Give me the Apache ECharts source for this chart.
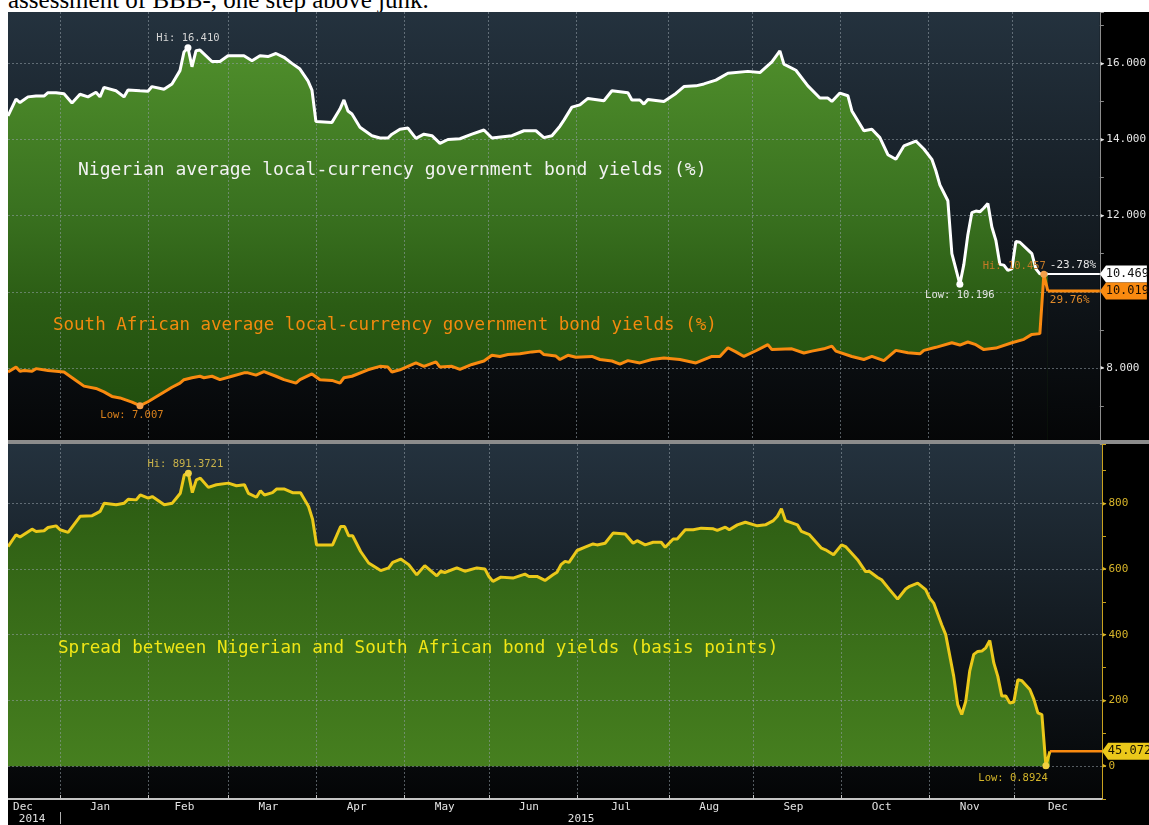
<!DOCTYPE html>
<html>
<head>
<meta charset="utf-8">
<script src="https://cdn.jsdelivr.net/npm/echarts@6/dist/echarts.min.js"></script>
<style>
  html, body { margin: 0; padding: 0; background: #fff; width: 1149px; height: 825px; overflow: hidden; }
  #caption { position: absolute; left: 8px; top: 0; width: 1141px; height: 12px; overflow: hidden; }
  #caption span { position: absolute; left: 0; top: -13px; font: 25px/25px "Liberation Serif", serif; color: #000; white-space: nowrap; }
  #main { position: absolute; left: 8px; top: 12px; width: 1141px; height: 813px; background: #000; }
</style>
</head>
<body>
<div id="caption"><span>assessment of BBB-, one step above junk.</span></div>
<div id="main"></div>
<script>
// Nigerian average local-currency government bond yield (%)
const ngPoints = [
  ['2014-12-15', 14.62], ['2014-12-17', 15.06], ['2014-12-18', 14.97], ['2014-12-22', 15.12],
  ['2014-12-24', 15.14], ['2014-12-26', 15.14], ['2014-12-29', 15.23], ['2014-12-31', 15.23],
  ['2015-01-02', 15.20], ['2015-01-06', 14.96], ['2015-01-08', 15.19], ['2015-01-12', 15.12],
  ['2015-01-14', 15.24], ['2015-01-15', 15.12], ['2015-01-16', 15.37], ['2015-01-21', 15.28],
  ['2015-01-23', 15.12], ['2015-01-26', 15.30], ['2015-01-29', 15.28], ['2015-02-02', 15.27],
  ['2015-02-03', 15.39], ['2015-02-06', 15.32], ['2015-02-10', 15.46], ['2015-02-12', 15.81],
  ['2015-02-13', 16.30], ['2015-02-16', 16.41], ['2015-02-17', 15.91], ['2015-02-18', 16.33],
  ['2015-02-19', 16.35], ['2015-02-24', 16.05], ['2015-02-26', 16.05], ['2015-03-02', 16.20],
  ['2015-03-06', 16.20], ['2015-03-10', 16.07], ['2015-03-12', 16.20], ['2015-03-16', 16.18],
  ['2015-03-18', 16.26], ['2015-03-20', 16.16], ['2015-03-24', 16.00], ['2015-03-26', 15.85],
  ['2015-03-30', 15.54], ['2015-03-31', 15.30], ['2015-04-01', 14.47], ['2015-04-07', 14.45],
  ['2015-04-09', 14.80], ['2015-04-10', 15.04], ['2015-04-13', 14.75], ['2015-04-14', 14.67],
  ['2015-04-16', 14.32], ['2015-04-21', 14.10], ['2015-04-23', 14.04], ['2015-04-27', 14.04],
  ['2015-04-28', 14.14], ['2015-04-30', 14.27], ['2015-05-04', 14.30], ['2015-05-06', 14.03],
  ['2015-05-08', 14.14], ['2015-05-12', 14.10], ['2015-05-14', 13.90], ['2015-05-18', 14.00],
  ['2015-05-21', 14.02], ['2015-05-26', 14.14], ['2015-05-29', 14.25], ['2015-06-02', 14.04],
  ['2015-06-09', 14.10], ['2015-06-12', 14.23], ['2015-06-17', 14.23], ['2015-06-19', 14.05],
  ['2015-06-23', 14.10], ['2015-06-25', 14.35], ['2015-06-26', 14.51], ['2015-06-30', 14.85],
  ['2015-07-02', 14.91], ['2015-07-06', 15.08], ['2015-07-10', 15.02], ['2015-07-14', 15.28],
  ['2015-07-20', 15.23], ['2015-07-21', 15.04], ['2015-07-23', 15.04], ['2015-07-24', 14.93],
  ['2015-07-27', 15.05], ['2015-07-31', 15.00], ['2015-08-05', 15.21], ['2015-08-07', 15.39],
  ['2015-08-12', 15.41], ['2015-08-14', 15.46], ['2015-08-19', 15.56], ['2015-08-24', 15.74],
  ['2015-08-31', 15.79], ['2015-09-03', 15.76], ['2015-09-08', 16.04], ['2015-09-10', 16.33],
  ['2015-09-11', 15.98], ['2015-09-16', 15.82], ['2015-09-21', 15.41], ['2015-09-24', 15.09],
  ['2015-09-28', 15.09], ['2015-09-29', 15.00], ['2015-10-01', 15.22], ['2015-10-05', 15.15],
  ['2015-10-06', 14.75], ['2015-10-09', 14.23], ['2015-10-13', 14.27], ['2015-10-15', 14.05],
  ['2015-10-19', 13.60], ['2015-10-21', 13.48], ['2015-10-23', 13.83], ['2015-10-28', 13.96],
  ['2015-10-30', 13.75], ['2015-11-03', 13.48], ['2015-11-04', 13.18], ['2015-11-05', 12.81],
  ['2015-11-09', 12.39], ['2015-11-10', 11.00], ['2015-11-11', 10.60], ['2015-11-12', 10.196],
  ['2015-11-13', 10.72], ['2015-11-16', 11.50], ['2015-11-17', 12.08], ['2015-11-18', 12.12],
  ['2015-11-19', 12.10], ['2015-11-20', 12.20], ['2015-11-23', 12.32], ['2015-11-24', 11.70],
  ['2015-11-25', 11.35], ['2015-11-26', 10.72], ['2015-11-27', 10.70], ['2015-11-30', 10.56],
  ['2015-12-01', 10.60], ['2015-12-02', 11.32], ['2015-12-03', 11.30], ['2015-12-07', 11.10],
  ['2015-12-08', 11.00], ['2015-12-09', 10.60], ['2015-12-10', 10.47], ['2015-12-11', 10.466],
  ['2015-12-14', 10.469]
];

// South African average local-currency government bond yield (%)
const saPoints = [
  ['2014-12-15', 7.89], ['2014-12-17', 8.02], ['2014-12-18', 7.91], ['2014-12-19', 7.93],
  ['2014-12-23', 7.91], ['2014-12-24', 7.98], ['2014-12-29', 7.93], ['2014-12-31', 7.91],
  ['2015-01-02', 7.89], ['2015-01-07', 7.67], ['2015-01-09', 7.52], ['2015-01-14', 7.46],
  ['2015-01-16', 7.37], ['2015-01-20', 7.25], ['2015-01-22', 7.21], ['2015-01-27', 7.10],
  ['2015-01-29', 7.007], ['2015-02-02', 7.11], ['2015-02-05', 7.30], ['2015-02-10', 7.49],
  ['2015-02-12', 7.60], ['2015-02-13', 7.69], ['2015-02-17', 7.74], ['2015-02-19', 7.78],
  ['2015-02-20', 7.74], ['2015-02-24', 7.78], ['2015-02-26', 7.69], ['2015-03-03', 7.78],
  ['2015-03-06', 7.87], ['2015-03-09', 7.87], ['2015-03-11', 7.81], ['2015-03-13', 7.90],
  ['2015-03-18', 7.78], ['2015-03-20', 7.69], ['2015-03-25', 7.60], ['2015-03-26', 7.69],
  ['2015-03-31', 7.84], ['2015-04-02', 7.69], ['2015-04-07', 7.67], ['2015-04-09', 7.60],
  ['2015-04-10', 7.74], ['2015-04-14', 7.78], ['2015-04-20', 7.95], ['2015-04-23', 8.04],
  ['2015-04-27', 8.02], ['2015-04-28', 7.89], ['2015-04-30', 7.95], ['2015-05-06', 8.13],
  ['2015-05-08', 8.04], ['2015-05-13', 8.16], ['2015-05-14', 8.02], ['2015-05-19', 8.04],
  ['2015-05-21', 7.96], ['2015-05-26', 8.09], ['2015-05-29', 8.18], ['2015-06-02', 8.33],
  ['2015-06-04', 8.30], ['2015-06-08', 8.35], ['2015-06-11', 8.37], ['2015-06-16', 8.42],
  ['2015-06-18', 8.44], ['2015-06-19', 8.35], ['2015-06-24', 8.31], ['2015-06-25', 8.22],
  ['2015-06-29', 8.33], ['2015-07-01', 8.28], ['2015-07-07', 8.30], ['2015-07-09', 8.22],
  ['2015-07-14', 8.18], ['2015-07-16', 8.10], ['2015-07-20', 8.19], ['2015-07-23', 8.13],
  ['2015-07-28', 8.22], ['2015-07-31', 8.26], ['2015-08-06', 8.22], ['2015-08-12', 8.13],
  ['2015-08-18', 8.30], ['2015-08-20', 8.30], ['2015-08-24', 8.53], ['2015-08-26', 8.42],
  ['2015-08-28', 8.30], ['2015-09-02', 8.45], ['2015-09-07', 8.61], ['2015-09-08', 8.48],
  ['2015-09-15', 8.50], ['2015-09-18', 8.39], ['2015-09-22', 8.44], ['2015-09-25', 8.50],
  ['2015-09-29', 8.57], ['2015-09-30', 8.44], ['2015-10-06', 8.30], ['2015-10-09', 8.22],
  ['2015-10-13', 8.30], ['2015-10-16', 8.19], ['2015-10-21', 8.46], ['2015-10-26', 8.40],
  ['2015-10-29', 8.37], ['2015-10-30', 8.46], ['2015-11-04', 8.54], ['2015-11-10', 8.66],
  ['2015-11-12', 8.60], ['2015-11-16', 8.68], ['2015-11-18', 8.61], ['2015-11-20', 8.48],
  ['2015-11-25', 8.52], ['2015-12-01', 8.66], ['2015-12-04', 8.75], ['2015-12-08', 8.88],
  ['2015-12-10', 8.90], ['2015-12-11', 10.457], ['2015-12-14', 10.019]
];

// Spread between the two (basis points)
const spreadPoints = [
  ['2014-12-15', 668], ['2014-12-17', 704], ['2014-12-18', 697], ['2014-12-23', 721],
  ['2014-12-24', 714], ['2014-12-26', 716], ['2014-12-29', 726], ['2014-12-31', 731],
  ['2015-01-01', 719], ['2015-01-05', 711], ['2015-01-08', 760], ['2015-01-13', 762],
  ['2015-01-15', 775], ['2015-01-16', 800], ['2015-01-21', 795], ['2015-01-23', 800],
  ['2015-01-26', 812], ['2015-01-28', 810], ['2015-01-29', 825], ['2015-02-02', 815],
  ['2015-02-03', 820], ['2015-02-06', 795], ['2015-02-10', 800], ['2015-02-11', 815],
  ['2015-02-12', 830], ['2015-02-13', 886], ['2015-02-16', 891.3721], ['2015-02-17', 832],
  ['2015-02-18', 871], ['2015-02-19', 876], ['2015-02-23', 848], ['2015-02-25', 856],
  ['2015-03-02', 861], ['2015-03-04', 853], ['2015-03-06', 856], ['2015-03-09', 830],
  ['2015-03-11', 818], ['2015-03-12', 838], ['2015-03-13', 825], ['2015-03-17', 832],
  ['2015-03-18', 843], ['2015-03-20', 843], ['2015-03-24', 832], ['2015-03-26', 832],
  ['2015-03-30', 790], ['2015-03-31', 751], ['2015-04-01', 673], ['2015-04-07', 673],
  ['2015-04-09', 729], ['2015-04-10', 729], ['2015-04-13', 701], ['2015-04-14', 701],
  ['2015-04-16', 653], ['2015-04-20', 618], ['2015-04-23', 595], ['2015-04-27', 603],
  ['2015-04-28', 620], ['2015-04-30', 630], ['2015-05-04', 613], ['2015-05-06', 582],
  ['2015-05-08', 610], ['2015-05-13', 579], ['2015-05-14', 593], ['2015-05-15', 589],
  ['2015-05-20', 603], ['2015-05-22', 593], ['2015-05-27', 603], ['2015-05-29', 600],
  ['2015-06-01', 577], ['2015-06-02', 562], ['2015-06-04', 575], ['2015-06-09', 572],
  ['2015-06-12', 584], ['2015-06-15', 577], ['2015-06-17', 577], ['2015-06-19', 565],
  ['2015-06-23', 582], ['2015-06-24', 590], ['2015-06-25', 613], ['2015-06-26', 623],
  ['2015-06-29', 620], ['2015-07-01', 656], ['2015-07-03', 666], ['2015-07-07', 676],
  ['2015-07-08', 673], ['2015-07-10', 678], ['2015-07-14', 709], ['2015-07-17', 706],
  ['2015-07-21', 678], ['2015-07-22', 686], ['2015-07-24', 673], ['2015-07-28', 681],
  ['2015-07-30', 681], ['2015-07-31', 666], ['2015-08-04', 691], ['2015-08-05', 691],
  ['2015-08-07', 719], ['2015-08-11', 719], ['2015-08-13', 724], ['2015-08-18', 722],
  ['2015-08-19', 717], ['2015-08-21', 727], ['2015-08-24', 719], ['2015-08-26', 734],
  ['2015-08-28', 742], ['2015-09-02', 731], ['2015-09-04', 734], ['2015-09-08', 747],
  ['2015-09-09', 760], ['2015-09-10', 783], ['2015-09-11', 747], ['2015-09-16', 734],
  ['2015-09-17', 714], ['2015-09-21', 704], ['2015-09-24', 663], ['2015-09-25', 658],
  ['2015-09-29', 643], ['2015-10-01', 673], ['2015-10-02', 668], ['2015-10-07', 628],
  ['2015-10-09', 592], ['2015-10-12', 592], ['2015-10-14', 574], ['2015-10-15', 567],
  ['2015-10-19', 537], ['2015-10-21', 508], ['2015-10-23', 539], ['2015-10-26', 547],
  ['2015-10-28', 557], ['2015-10-30', 537], ['2015-11-02', 511], ['2015-11-03', 496],
  ['2015-11-05', 430], ['2015-11-06', 400], ['2015-11-10', 273], ['2015-11-11', 187],
  ['2015-11-12', 157], ['2015-11-13', 197], ['2015-11-16', 290], ['2015-11-17', 340],
  ['2015-11-18', 349], ['2015-11-19', 350], ['2015-11-20', 360], ['2015-11-23', 382],
  ['2015-11-24', 314], ['2015-11-25', 273], ['2015-11-26', 213], ['2015-11-27', 213],
  ['2015-11-30', 192], ['2015-12-01', 195], ['2015-12-02', 263], ['2015-12-03', 260],
  ['2015-12-07', 233], ['2015-12-08', 203], ['2015-12-09', 162], ['2015-12-10', 157],
  ['2015-12-11', 0.8924], ['2015-12-14', 45.072]
];

const yieldLabelTicks = [8, 12, 14, 16];
const yieldGridTicks = [8, 10, 12, 14, 16];
const spreadTicks = [0, 200, 400, 600, 800];
const monthNames = ['Jan', 'Feb', 'Mar', 'Apr', 'May', 'Jun', 'Jul', 'Aug', 'Sep', 'Oct', 'Nov', 'Dec'];
const changeLabels = { ng: '-23.78%', sa: '29.76%' };

const titles = {
  ng: 'Nigerian average local-currency government bond yields (%)',
  sa: 'South African average local-currency government bond yields (%)',
  spread: 'Spread between Nigerian and South African bond yields (basis points)'
};

// trading-day axis: every weekday from mid Dec 2014 to end of 2015
const days = [];
for (let t = Date.UTC(2014, 11, 15); t <= Date.UTC(2015, 11, 31); t += 86400000) {
  const d = new Date(t);
  const wd = d.getUTCDay();
  if (wd === 0 || wd === 6) continue;
  days.push(d.toISOString().slice(0, 10));
}
const lastDay = days[days.length - 1];

// month boundaries / mid points, year boundaries / mid points
const monthStarts = new Set();
const monthMids = new Map();
const yearStarts = new Set();
const yearMids = new Map();
let mStart = 0, yStart = 0;
for (let i = 1; i <= days.length; i++) {
  const end = i === days.length;
  if (end || days[i].slice(5, 7) !== days[i - 1].slice(5, 7)) {
    const mid = mStart === 0 ? 0 : Math.floor((mStart + i - 1) / 2);
    monthMids.set(mid, monthNames[+days[mStart].slice(5, 7) - 1]);
    if (!end) monthStarts.add(i);
    mStart = i;
  }
  if (end || days[i].slice(0, 4) !== days[i - 1].slice(0, 4)) {
    yearMids.set(Math.floor((yStart + i - 1) / 2), days[yStart].slice(0, 4));
    if (!end) yearStarts.add(i);
    yStart = i;
  }
}

const last = arr => arr[arr.length - 1];
const ngLast = last(ngPoints), saLast = last(saPoints), spLast = last(spreadPoints);

const MONO = '"DejaVu Sans Mono", monospace';
const gridLineStyle = { color: 'rgba(150,160,170,0.55)', width: 1, type: [2, 2] };
const panelBg = {
  type: 'linear', x: 0, y: 0, x2: 0, y2: 1,
  colorStops: [{ offset: 0, color: '#24323e' }, { offset: 1, color: '#040506' }]
};

const WHITE = '#ffffff', ORANGE = '#f98a10', GOLD = '#ebc81a';

function hiLow(color, digits, hiOpt, lowOpt) {
  const base = { fontFamily: MONO, fontSize: 10.5, color: color };
  return {
    symbol: 'circle', symbolSize: 7,
    data: [
      { type: 'max', itemStyle: { color: hiOpt.dot },
        label: Object.assign({}, base, { formatter: p => 'Hi: ' + p.value.toFixed(digits) }, hiOpt.label) },
      { type: 'min', itemStyle: { color: lowOpt.dot },
        label: Object.assign({}, base, { formatter: p => 'Low: ' + p.value.toFixed(digits) }, lowOpt.label) }
    ]
  };
}

function valueBox(date, value, bg, fg, digits) {
  return {
    coord: [date, value],
    symbol: 'path://M0,8L6,0L46,0L46,16L6,16Z',
    symbolSize: [47, 17],
    symbolKeepAspect: false,
    symbolOffset: ['50%', 0],
    itemStyle: { color: bg },
    label: {
      show: true, position: 'inside', offset: [4, 0],
      formatter: value.toFixed(digits), color: fg, fontFamily: MONO, fontSize: 12
    }
  };
}

function changeText(date, value, text, color, dy) {
  return {
    coord: [date, value], symbol: 'circle', symbolSize: 0,
    label: { show: true, position: 'right', distance: 2, offset: [0, dy], formatter: text, color: color, fontFamily: MONO, fontSize: 11 }
  };
}

const chart = echarts.init(document.getElementById('main'));

const option = {
  backgroundColor: '#000',
  animation: false,
  grid: [
    { left: 0, right: 47, top: 0, height: 432, show: true, borderWidth: 0, backgroundColor: panelBg },
    { left: 0, right: 47, top: 432, height: 356, show: true, borderWidth: 0, backgroundColor: panelBg }
  ],
  xAxis: [
    {
      type: 'category', gridIndex: 0, data: days, boundaryGap: false, z: 3,
      axisLine: { show: false, onZero: false }, axisTick: { show: false }, axisLabel: { show: false },
      splitLine: { show: true, interval: i => monthStarts.has(i), lineStyle: gridLineStyle }
    },
    {
      type: 'category', gridIndex: 1, data: days, boundaryGap: false, position: 'bottom', z: 3,
      axisLine: { show: true, onZero: false, lineStyle: { color: '#c4c4c4', width: 2 } },
      axisTick: { show: true, inside: true, length: 4, interval: i => monthStarts.has(i), lineStyle: { color: '#c4c4c4' } },
      axisLabel: {
        show: true, margin: 3, interval: i => monthMids.has(i),
        formatter: (v, i) => i === 0 ? '{first|' + monthMids.get(i) + '}' : monthMids.get(i),
        color: '#e2e2e2', fontFamily: MONO, fontSize: 11,
        rich: { first: { padding: [0, 0, 0, 30], color: '#e2e2e2', fontFamily: MONO, fontSize: 11 } }
      },
      splitLine: { show: true, interval: i => monthStarts.has(i), lineStyle: gridLineStyle }
    },
    {
      type: 'category', gridIndex: 1, data: days, boundaryGap: false, position: 'bottom', offset: 13,
      axisLine: { show: false, onZero: false },
      axisTick: { show: true, length: 12, interval: i => yearStarts.has(i), lineStyle: { color: '#b0b0b0' } },
      axisLabel: {
        show: true, margin: 2, interval: i => yearMids.has(i),
        formatter: (v, i) => yearMids.get(i), color: '#e2e2e2', fontFamily: MONO, fontSize: 11
      },
      splitLine: { show: false }
    }
  ],
  yAxis: [
    {
      type: 'value', gridIndex: 0, position: 'right', min: 6, max: 17.35, interval: 1, z: 3,
      axisLine: { show: true, lineStyle: { color: '#8c8c8c' } },
      axisTick: { show: true, length: 4, lineStyle: { color: '#8c8c8c' } },
      splitLine: { show: false },
      axisLabel: {
        margin: 0, color: '#e6e6e6', fontFamily: MONO, fontSize: 11,
        formatter: v => yieldLabelTicks.includes(v) ? '{t|▸}' + v.toFixed(3) : '',
        rich: { t: { fontSize: 9, color: '#e6e6e6', padding: [0, 1, 0, 0] } }
      }
    },
    {
      type: 'value', gridIndex: 1, position: 'right', min: -100, max: 980, interval: 100, z: 3,
      axisLine: { show: true, lineStyle: { color: '#c9a21e' } },
      axisTick: { show: true, length: 4, lineStyle: { color: '#c9a21e' } },
      splitLine: { show: false },
      axisLabel: {
        margin: 0, color: '#d8b52a', fontFamily: MONO, fontSize: 11,
        formatter: v => spreadTicks.includes(v) ? '{t|▸}' + v : '',
        rich: { t: { fontSize: 9, color: '#d8b52a', padding: [0, 1, 0, 0] } }
      }
    }
  ],
  graphic: [
    { type: 'rect', z: 20, shape: { x: 0, y: 428, width: 1141, height: 4 }, style: { fill: '#8c8c8c' } },
    { type: 'text', z: 20, x: 70, y: 158, style: { text: titles.ng, fill: '#f2f2f2', font: '18px ' + MONO, verticalAlign: 'middle' } },
    { type: 'text', z: 20, x: 45, y: 313, style: { text: titles.sa, fill: '#f28a0e', font: '17.5px ' + MONO, verticalAlign: 'middle' } },
    { type: 'text', z: 20, x: 50, y: 636, style: { text: titles.spread, fill: '#f0e616', font: '17.6px ' + MONO, verticalAlign: 'middle' } }
  ],
  series: [
    {
      // green fill under Nigerian yields
      type: 'line', xAxisIndex: 0, yAxisIndex: 0, data: ngPoints, z: 1, silent: true,
      showSymbol: false, lineStyle: { width: 0 },
      areaStyle: {
        origin: 'start', opacity: 1,
        color: {
          type: 'linear', x: 0, y: 0, x2: 0, y2: 1,
          colorStops: [
            { offset: 0, color: '#4f8e2b' }, { offset: 0.4, color: '#3a7220' },
            { offset: 0.65, color: '#2b5c14' }, { offset: 1, color: '#1e4a0c' }
          ]
        }
      },
      markLine: {
        silent: true, symbol: 'none', z: 3, label: { show: false },
        lineStyle: gridLineStyle,
        data: yieldGridTicks.map(v => ({ yAxis: v }))
      }
    },
    {
      // dark fill under South African yields
      type: 'line', xAxisIndex: 0, yAxisIndex: 0, data: saPoints, z: 2, silent: true,
      showSymbol: false, lineStyle: { width: 0 },
      areaStyle: {
        origin: 'start', opacity: 1,
        color: {
          type: 'linear', x: 0, y: 0, x2: 0, y2: 1,
          colorStops: [{ offset: 0, color: '#10161b' }, { offset: 1, color: '#050607' }]
        }
      }
    },
    {
      name: 'Nigeria', type: 'line', xAxisIndex: 0, yAxisIndex: 0, data: ngPoints, z: 4,
      showSymbol: false, lineStyle: { color: WHITE, width: 3 },
      markPoint: hiLow('#d4d4d4', 3,
        { dot: WHITE, label: { position: 'top', distance: 1 } },
        { dot: WHITE, label: { position: 'bottom', distance: 2, color: '#e6e6e6' } })
    },
    {
      name: 'South Africa', type: 'line', xAxisIndex: 0, yAxisIndex: 0, data: saPoints, z: 4,
      showSymbol: false, lineStyle: { color: ORANGE, width: 3 },
      markPoint: hiLow('#d9801c', 3,
        { dot: '#f5a04a', label: { position: 'top', align: 'right', distance: 5, offset: [2, 6], color: '#c47a26' } },
        { dot: '#f5a04a', label: { position: 'bottom', distance: 1, offset: [-8, 0] } })
    },
    {
      type: 'line', xAxisIndex: 0, yAxisIndex: 0, z: 5, showSymbol: false, silent: true,
      data: [ngLast, [lastDay, ngLast[1]]], lineStyle: { color: WHITE, width: 2 },
      markPoint: { data: [
        changeText(ngLast[0], ngLast[1], changeLabels.ng, '#e4e4e4', -9),
        valueBox(lastDay, ngLast[1], '#ffffff', '#111111', 3)
      ] }
    },
    {
      type: 'line', xAxisIndex: 0, yAxisIndex: 0, z: 5, showSymbol: false, silent: true,
      data: [saLast, [lastDay, saLast[1]]], lineStyle: { color: ORANGE, width: 3 },
      markPoint: { data: [
        changeText(saLast[0], saLast[1], changeLabels.sa, '#e08a2a', 9),
        valueBox(lastDay, saLast[1], ORANGE, '#1a0d00', 3)
      ] }
    },
    {
      // green fill under the spread
      type: 'line', xAxisIndex: 1, yAxisIndex: 1, data: spreadPoints, z: 1, silent: true,
      showSymbol: false, lineStyle: { width: 0 },
      areaStyle: {
        opacity: 1,
        color: {
          type: 'linear', x: 0, y: 0, x2: 0, y2: 1,
          colorStops: [{ offset: 0, color: '#2b5a12' }, { offset: 1, color: '#467f1f' }]
        }
      },
      markLine: {
        silent: true, symbol: 'none', z: 3, label: { show: false },
        lineStyle: gridLineStyle,
        data: spreadTicks.map(v => ({ yAxis: v }))
      }
    },
    {
      name: 'Spread', type: 'line', xAxisIndex: 1, yAxisIndex: 1, data: spreadPoints, z: 4,
      showSymbol: false, lineStyle: { color: GOLD, width: 3 },
      markPoint: hiLow('#c9b24a', 4,
        { dot: '#f0d040', label: { position: 'top', distance: 0, offset: [-3, 0] } },
        { dot: '#f0d040', label: { position: 'bottom', align: 'right', distance: 3, offset: [2, 0], color: '#d4b52a' } })
    },
    {
      type: 'line', xAxisIndex: 1, yAxisIndex: 1, z: 5, showSymbol: false, silent: true,
      data: [spLast, [lastDay, spLast[1]]], lineStyle: { color: ORANGE, width: 2.5 },
      markPoint: { data: [valueBox(lastDay, spLast[1], GOLD, '#1a1400', 3)] }
    }
  ]
};

chart.setOption(option);
</script>
</body>
</html>
